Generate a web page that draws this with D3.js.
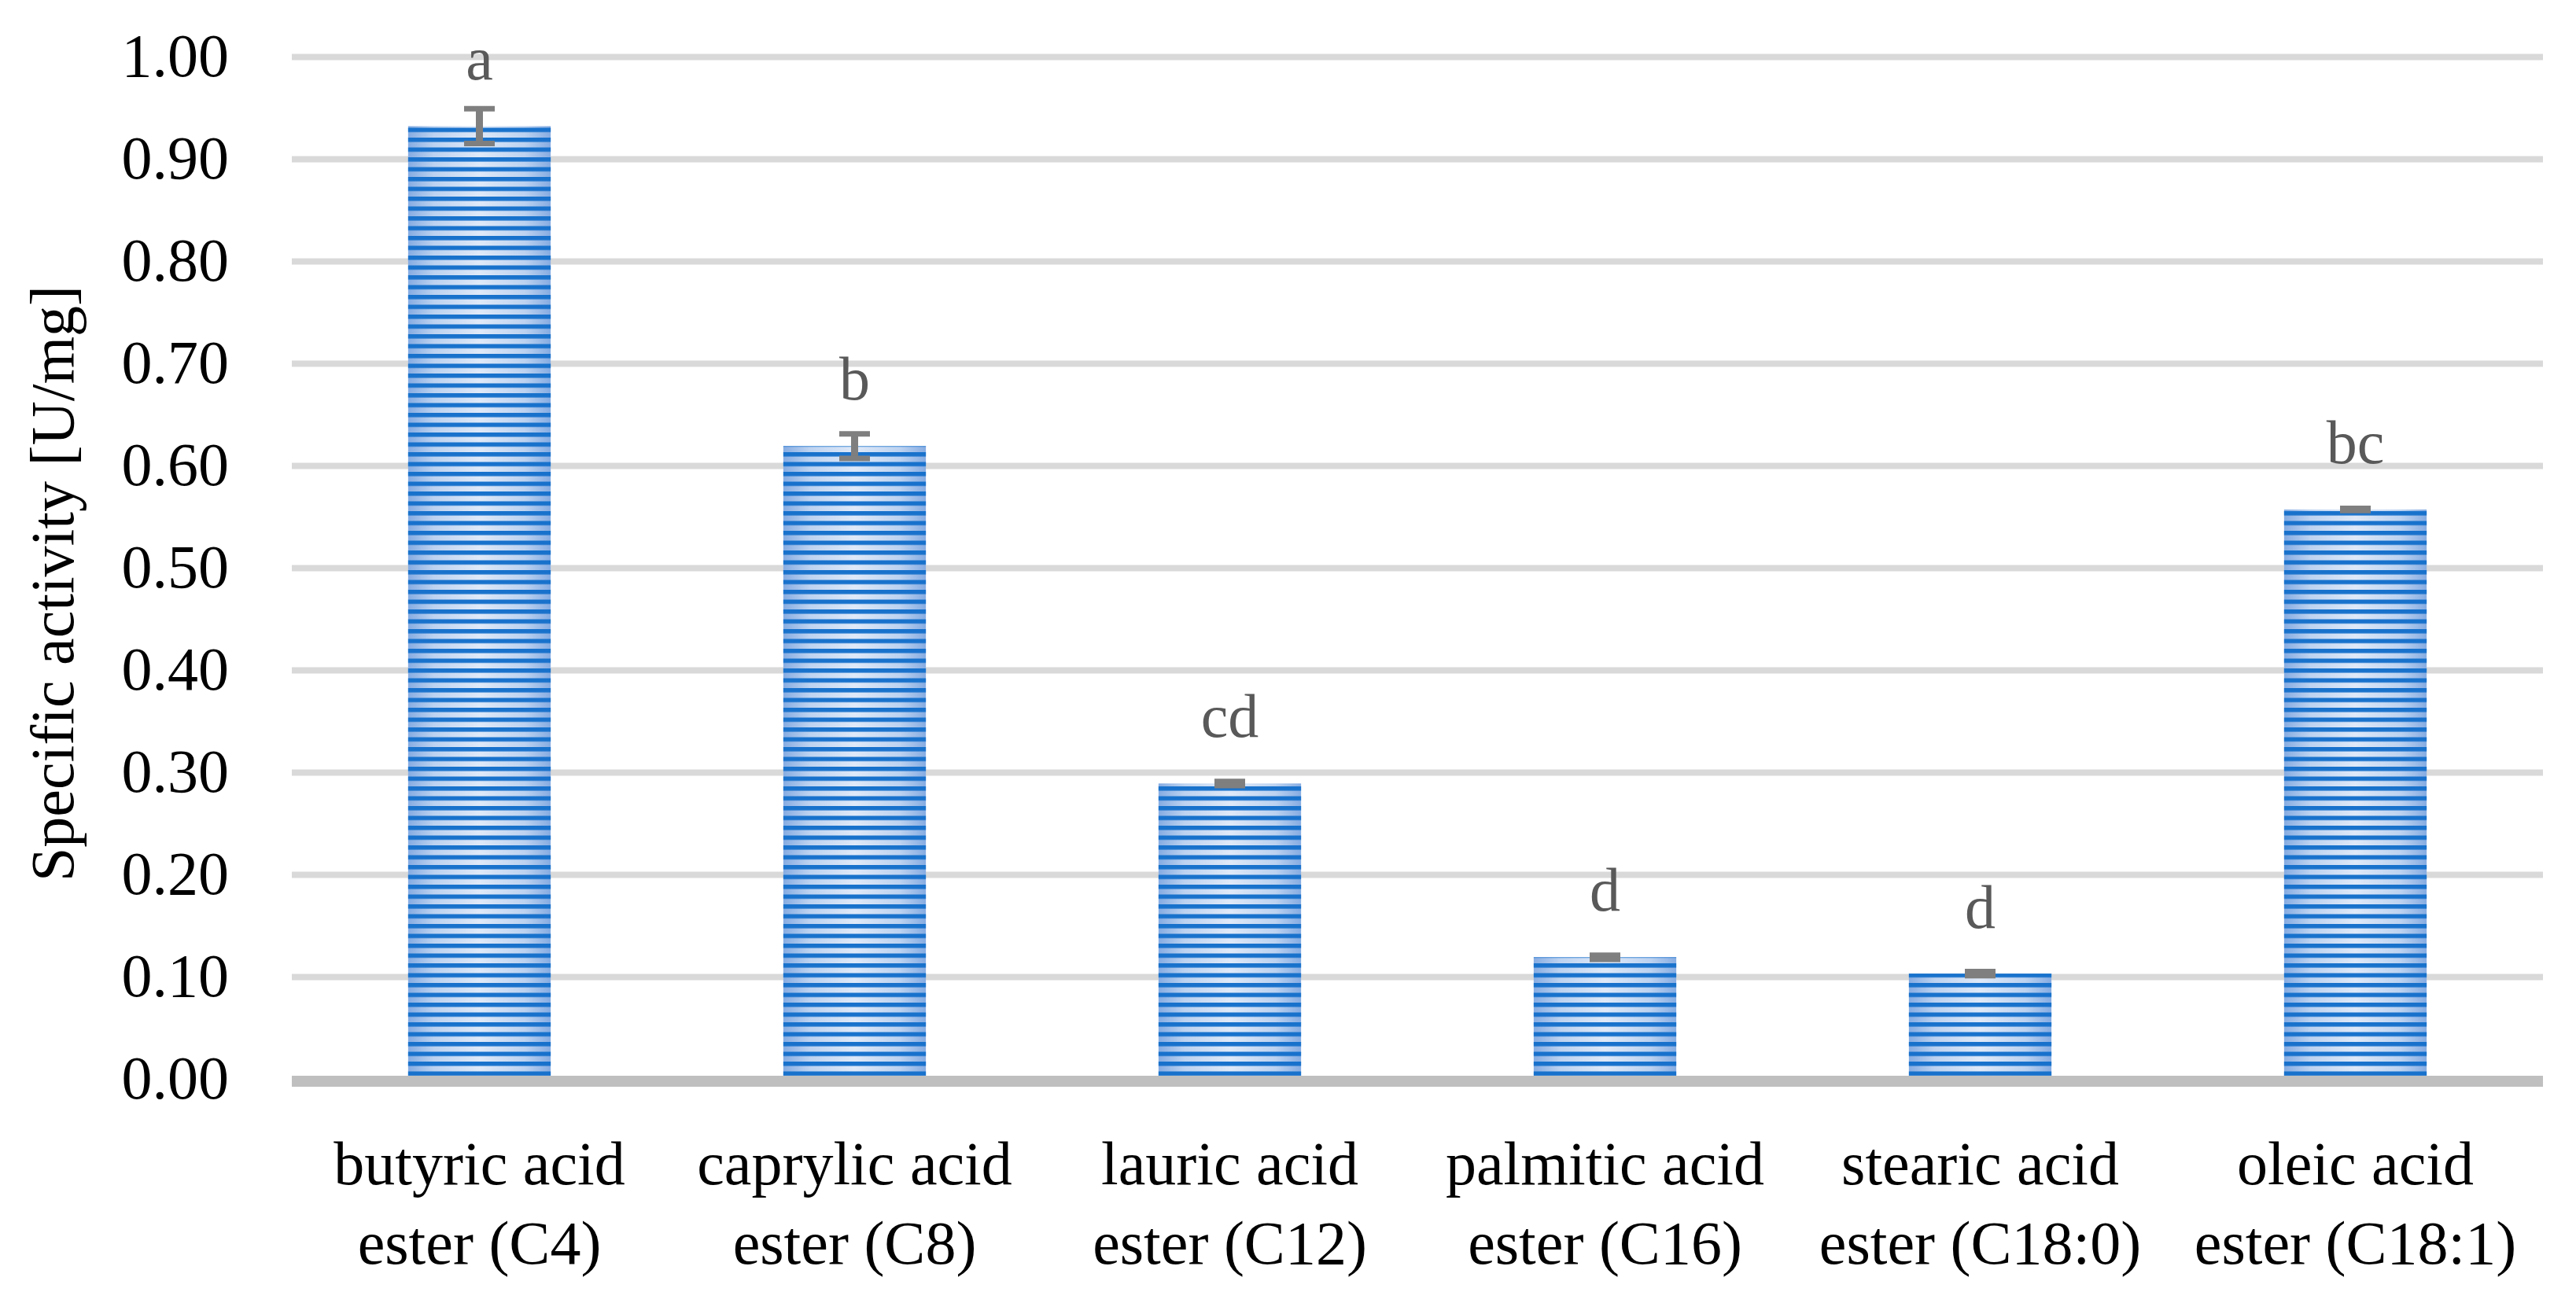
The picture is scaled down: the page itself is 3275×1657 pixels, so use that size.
<!DOCTYPE html>
<html>
<head>
<meta charset="utf-8">
<script src="https://cdn.jsdelivr.net/npm/d3@7"></script>
<style>
  html, body { margin: 0; padding: 0; background: #ffffff; }
  svg { display: block; }
</style>
</head>
<body>
<svg id="chart" width="3275" height="1657"></svg>
<script>
// ---- data ----
const categories = [
  "butyric acid\nester (C4)",
  "caprylic acid\nester (C8)",
  "lauric acid\nester (C12)",
  "palmitic acid\nester (C16)",
  "stearic acid\nester (C18:0)",
  "oleic acid\nester (C18:1)"
];
const activity = [0.932, 0.619, 0.289, 0.119, 0.103, 0.557];
const errors = [0.017, 0.012, 0.002, 0.002, 0.002, 0.001];
const letters = ["a", "b", "cd", "d", "d", "bc"];
const letterPos = [0.978, 0.665, 0.335, 0.165, 0.148, 0.602];
const yTicks = [0, 0.1, 0.2, 0.3, 0.4, 0.5, 0.6, 0.7, 0.8, 0.9, 1.0];
const yTitle = "Specific activity [U/mg]";

// ---- layout ----
const W = 3275, H = 1657;
const mLeft = 371, mRight = 3233, mTop = 72, mBottom = 1372;
const FONT = "'Liberation Serif', 'DejaVu Serif', serif";

const svg = d3.select("#chart");
svg.append("rect").attr("width", W).attr("height", H).attr("fill", "#fff");

const x = d3.scaleBand().domain(d3.range(categories.length)).range([mLeft, mRight]).padding(0);
const y = d3.scaleLinear().domain([0, 1]).range([mBottom, mTop]);

// defs: gradient + stripes
const defs = svg.append("defs");
const grad = defs.append("linearGradient").attr("id", "barGrad")
  .attr("x1", "0").attr("x2", "1").attr("y1", "0").attr("y2", "0");
[["0%", "#86ace2"], ["18%", "#bcd2f0"], ["50%", "#dfe9f8"], ["82%", "#bcd2f0"], ["100%", "#86ace2"]]
  .forEach(([o, c]) => grad.append("stop").attr("offset", o).attr("stop-color", c));
const pat = defs.append("pattern").attr("id", "stripes")
  .attr("patternUnits", "userSpaceOnUse").attr("width", 20).attr("height", 12.5);
pat.append("rect").attr("x", 0).attr("y", 0).attr("width", 20).attr("height", 5.5).attr("fill", "#1872cc");

// y axis with gridlines
const yAxis = d3.axisLeft(y).tickValues(yTicks).tickFormat(d3.format(".2f"))
  .tickSize(-(mRight - mLeft)).tickPadding(80);
const gy = svg.append("g").attr("transform", `translate(${mLeft},0)`).call(yAxis);
gy.select(".domain").remove();
gy.selectAll(".tick line").attr("stroke", "#d9d9d9").attr("stroke-width", 8);
gy.selectAll(".tick text").attr("font-family", FONT).attr("font-size", 78)
  .attr("fill", "#000").attr("dy", "0.32em");

// bars
const bw = x.bandwidth() * 0.38;
const bars = svg.append("g");
bars.selectAll("rect.base").data(activity).join("rect")
  .attr("class", "base")
  .attr("x", (d, i) => x(i) + x.bandwidth() / 2 - bw / 2)
  .attr("y", d => y(d))
  .attr("width", bw)
  .attr("height", d => y(0) - y(d))
  .attr("fill", "url(#barGrad)");
bars.selectAll("rect.str").data(activity).join("rect")
  .attr("class", "str")
  .attr("x", (d, i) => x(i) + x.bandwidth() / 2 - bw / 2)
  .attr("y", d => y(d))
  .attr("width", bw)
  .attr("height", d => y(0) - y(d))
  .attr("fill", "url(#stripes)");

// zero axis line
svg.append("line").attr("x1", mLeft).attr("x2", mRight)
  .attr("y1", y(0) + 3).attr("y2", y(0) + 3)
  .attr("stroke", "#bfbfbf").attr("stroke-width", 14);

// error bars
const eb = svg.append("g").attr("stroke", "#7f7f7f");
activity.forEach((v, i) => {
  const cx = x(i) + x.bandwidth() / 2;
  const e = errors[i];
  eb.append("line").attr("x1", cx).attr("x2", cx)
    .attr("y1", y(v + e)).attr("y2", y(v - e)).attr("stroke-width", 9);
  [v + e, v - e].forEach(t => {
    eb.append("line").attr("x1", cx - 19.5).attr("x2", cx + 19.5)
      .attr("y1", y(t)).attr("y2", y(t)).attr("stroke-width", 7);
  });
});

// significance letters
svg.append("g").selectAll("text").data(letters).join("text")
  .attr("x", (d, i) => x(i) + x.bandwidth() / 2)
  .attr("y", (d, i) => y(letterPos[i]))
  .attr("text-anchor", "middle")
  .attr("font-family", FONT).attr("font-size", 78).attr("fill", "#595959")
  .text(d => d);

// x axis labels
const xAxis = d3.axisBottom(x).tickSize(0).tickFormat(i => categories[i]);
const gx = svg.append("g").attr("transform", `translate(0,${mBottom})`).call(xAxis);
gx.select(".domain").remove();
gx.selectAll(".tick text").each(function(d) {
  const t = d3.select(this);
  const lines = categories[d].split("\n");
  t.text(null).attr("y", 0).attr("dy", null)
    .attr("font-family", FONT).attr("font-size", 78).attr("fill", "#000");
  lines.forEach((ln, k) => {
    t.append("tspan").attr("x", 0).attr("y", 134 + k * 101).text(ln);
  });
});

// y title
svg.append("text")
  .attr("transform", `translate(93,742) rotate(-90)`)
  .attr("text-anchor", "middle")
  .attr("font-family", FONT).attr("font-size", 78).attr("fill", "#000")
  .text(yTitle);
</script>
</body>
</html>
